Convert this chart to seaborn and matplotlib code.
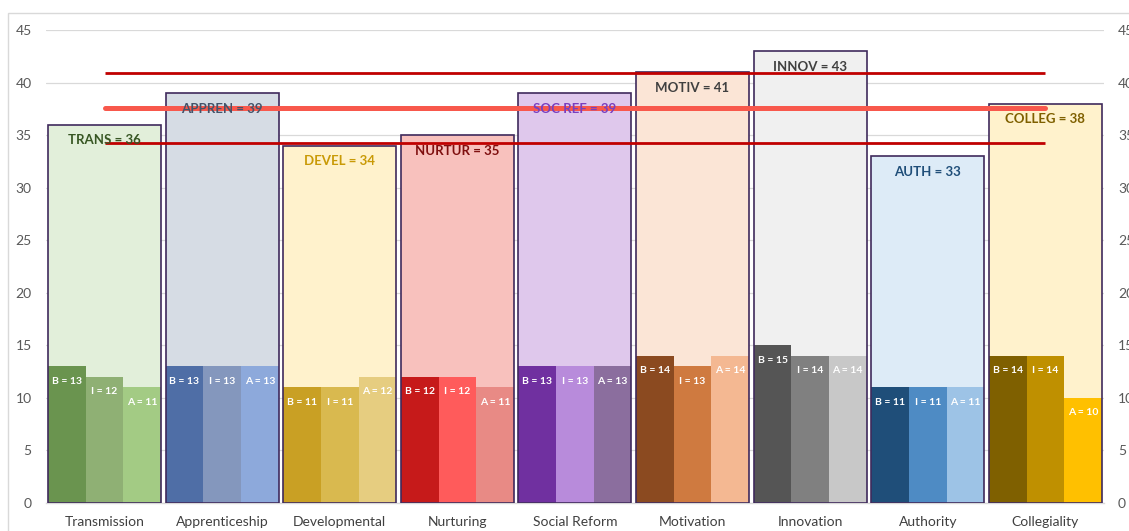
import numpy as np
import pandas as pd
import matplotlib
matplotlib.use("Agg")
import matplotlib.pyplot as plt
import seaborn as sns

# Teaching-perspective scores: total per perspective and its B / I / A components
categories = ["Transmission", "Apprenticeship", "Developmental", "Nurturing",
              "Social Reform", "Motivation", "Innovation", "Authority", "Collegiality"]
short_names = ["TRANS", "APPREN", "DEVEL", "NURTUR", "SOC REF",
               "MOTIV", "INNOV", "AUTH", "COLLEG"]
totals = [36, 39, 34, 35, 39, 41, 43, 33, 38]
b_scores = [13, 13, 11, 12, 13, 14, 15, 11, 14]
i_scores = [12, 13, 11, 12, 13, 13, 14, 11, 14]
a_scores = [11, 13, 12, 11, 13, 14, 14, 11, 10]
levels = ["B", "I", "A"]

# Colours per perspective
fill_colors = ["#E2EFDA", "#D6DCE4", "#FFF2CC", "#F8C1BD", "#DFC8EC",
               "#FBE5D6", "#F0F0F0", "#DDEBF7", "#FFF2CC"]
label_colors = ["#375623", "#44546A", "#C99A06", "#7F0F0F", "#7A3FBF",
                "#404040", "#404040", "#1F4E79", "#7F6000"]
sub_colors = {
    "B": ["#6A944F", "#4F6EA6", "#C9A024", "#C61A1A", "#7030A0",
          "#8B4A20", "#555555", "#1F4E79", "#7F6000"],
    "I": ["#8FB074", "#8497BD", "#D9B94F", "#FF5B5B", "#B88BDB",
          "#CF7A40", "#808080", "#4E8BC4", "#BF9000"],
    "A": ["#A3CB84", "#8DA9DB", "#E6CD80", "#E88A85", "#8B6E9E",
          "#F4B892", "#C8C8C8", "#9DC3E6", "#FFC000"],
}
outline_color = "#3F2A5C"

totals_df = pd.DataFrame({"category": categories, "total": totals})
parts_df = pd.DataFrame({
    "category": categories * 3,
    "level": ["B"] * 9 + ["I"] * 9 + ["A"] * 9,
    "score": b_scores + i_scores + a_scores,
})

sns.set_theme(style="white")
plt.rcParams["font.family"] = ["Lato", "DejaVu Sans"]

fig = plt.figure(figsize=(11.29, 5.31), dpi=100)
ax = fig.add_axes([0.0405, 0.0527, 0.9375, 0.8908])

# Outer chart frame
fig.patches.append(plt.Rectangle((8 / 1129, -0.05), 1.2, 0.05 + 1 - 13 / 531,
                                 transform=fig.transFigure, fill=False,
                                 edgecolor="#D9D9D9", linewidth=1.0, zorder=0))

# Total bars (light fill)
sns.barplot(data=totals_df, x="category", y="total", hue="category",
            palette=fill_colors, saturation=1, width=0.96, legend=False,
            ax=ax, linewidth=0, zorder=1)

# B / I / A component bars
sns.barplot(data=parts_df, x="category", y="score", hue="level",
            hue_order=levels, width=0.96, gap=0, dodge=True, ax=ax,
            saturation=1, linewidth=0, legend=False, zorder=2)
for container, lvl in zip(ax.containers[-3:], levels):
    for patch, col in zip(container, sub_colors[lvl]):
        patch.set_facecolor(col)
        patch.set_alpha(1)

# Outline of the total bars on top
sns.barplot(data=totals_df, x="category", y="total", color=outline_color,
            fill=False, width=0.96, ax=ax, linewidth=1.2, zorder=3)
for patch in ax.containers[-1]:
    patch.set_edgecolor(outline_color)
    patch.set_linewidth(1.2)

# Mean and ±1 SD of the totals
mean_total = float(np.mean(totals))
sd_total = float(np.std(totals, ddof=1))
xs = [0, len(categories) - 1]
ax.plot(xs, [mean_total + sd_total] * 2, color="#C00000", lw=2.0, zorder=4,
        solid_capstyle="butt")
ax.plot(xs, [mean_total - sd_total] * 2, color="#C00000", lw=2.0, zorder=4,
        solid_capstyle="butt")
ax.plot(xs, [mean_total] * 2, color="#F8584C", lw=3.6, zorder=4,
        solid_capstyle="round")

# Labels
for i, (name, tot) in enumerate(zip(short_names, totals)):
    ax.text(i, tot - 1.5, f"{name} = {tot}", ha="center", va="center",
            fontsize=9.5, fontweight="bold", color=label_colors[i], zorder=5)

offsets = {"B": -0.32, "I": 0.0, "A": 0.32}
for lvl, scores in zip(levels, [b_scores, i_scores, a_scores]):
    for i, s in enumerate(scores):
        ax.text(i + offsets[lvl], s - 1.4, f"{lvl} = {s}", ha="center",
                va="center", fontsize=7.5, fontweight="bold", color="white",
                zorder=5)

# Axes styling
ax.set_ylim(0, 45)
ax.set_xlim(-0.5, len(categories) - 0.5)
ax.set_yticks(range(0, 46, 5))
ax.set_xlabel("")
ax.set_ylabel("")
ax.yaxis.grid(True, color="#D9D9D9", linewidth=0.9)
ax.set_axisbelow(True)
for side in ["top", "right", "left"]:
    ax.spines[side].set_visible(False)
ax.spines["bottom"].set_color("#D9D9D9")
ax.spines["bottom"].set_linewidth(1.0)
ax.tick_params(axis="y", length=0, pad=10, labelsize=10, labelcolor="#595959")
ax.tick_params(axis="x", length=0, pad=9, labelsize=10, labelcolor="#404040")

ax2 = ax.twinx()
ax2.set_ylim(0, 45)
ax2.set_yticks(range(0, 46, 5))
for side in ["top", "right", "left", "bottom"]:
    ax2.spines[side].set_visible(False)
ax2.tick_params(axis="y", length=0, pad=10, labelsize=10, labelcolor="#595959")
ax2.grid(False)

fig.savefig("out.png", dpi=100)
